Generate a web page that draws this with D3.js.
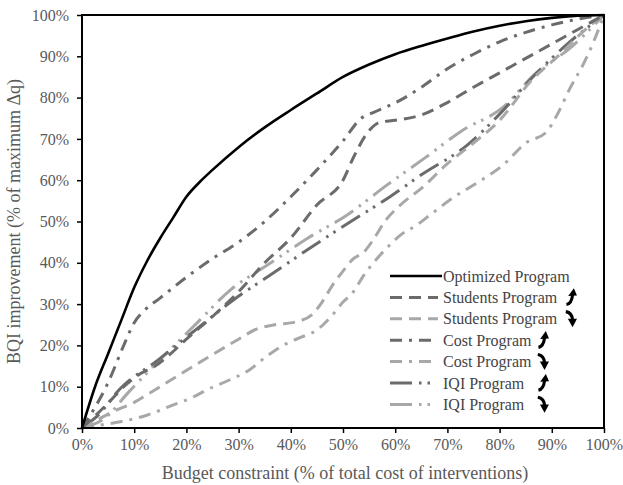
<!DOCTYPE html>
<html>
<head>
<meta charset="utf-8">
<script src="https://cdn.jsdelivr.net/npm/d3@7"></script>
<style>
  html, body { margin: 0; padding: 0; background: #fff; }
  svg { display: block; font-family: "Liberation Serif", "Times New Roman", serif; }
</style>
</head>
<body>
<svg id="chart" width="623" height="485"></svg>
<script>
// Budget (% of total cost) and BQI improvement (% of max Δq) for each program
const optimizedX = [0, 2.5, 5, 7.5, 10, 12.5, 15, 17.5, 20, 22.5, 25, 30, 35, 40, 45, 50, 55, 60, 65, 70, 75, 80, 85, 90, 95, 100];
const optimizedY = [0, 10, 18, 26, 34, 40.5, 46, 51, 56, 59.5, 62.5, 68, 72.8, 77, 81, 85, 88, 90.5, 92.5, 94.3, 96, 97.4, 98.5, 99.3, 99.8, 100];

const studentsUpX = [0, 5, 8, 11, 14, 17, 20, 25, 30, 35, 40, 45, 50, 52, 55, 57, 60, 65, 70, 75, 80, 85, 90, 95, 100];
const studentsUpY = [0, 6, 10, 13, 15, 18, 21.5, 27, 33, 40, 46, 54, 60, 65.5, 72, 74, 74.5, 75.8, 78.8, 82.5, 86, 89.5, 93, 96.5, 100];

const studentsDownX = [0, 3, 6, 10, 12.4, 17.5, 24, 30, 33.5, 37, 41, 44, 46, 48, 50, 52, 54, 56, 58, 61, 65, 70, 75, 80, 86, 92, 96, 100];
const studentsDownY = [0, 2, 4, 6.2, 8, 12, 17, 21.5, 24, 25, 25.7, 27.4, 30.5, 34.6, 38, 41, 42.6, 46, 50, 54, 58, 64, 69, 74.5, 84, 91, 96, 100];

const costUpX = [0, 5, 8, 10, 12, 15, 20, 25, 30, 35, 40, 45, 50, 53.5, 56, 61, 65, 70, 75, 80, 85, 90, 95, 100];
const costUpY = [0, 11, 20, 25.5, 28.5, 31.5, 36.5, 41, 45, 50, 56, 62.5, 69.5, 75, 76.5, 79.4, 82.5, 87, 90.5, 93.5, 95.8, 97.6, 99, 100];

const costDownX = [0, 3.4, 7.3, 12.4, 17.5, 21.3, 24, 28, 32, 35, 38.5, 42, 44.3, 46.2, 48, 50, 52, 54, 56.5, 58.4, 61, 64.2, 66.7, 71, 76, 80.7, 85, 89, 91, 93.5, 96, 98, 100];
const costDownY = [0, 0.7, 1.5, 3.1, 5.6, 7.5, 9.3, 11.5, 14, 17, 20, 22, 23.2, 25, 27.4, 30.5, 33, 37, 41, 43.6, 46.7, 49.2, 51.6, 55.7, 59.6, 63.7, 69, 71.7, 75.8, 82.3, 88, 93.5, 100];

const iqiUpX = [0, 3, 7.3, 14.6, 22, 29, 36, 43.7, 51.5, 59, 65, 73.8, 80, 86, 93, 100];
const iqiUpY = [0, 3, 9.5, 16.5, 24, 31, 37, 43.6, 50, 56, 61.3, 68.5, 76, 84.5, 93, 100];

const iqiDownX = [0, 4.4, 8.8, 15.3, 22, 28.4, 35.6, 43.3, 50.8, 58.4, 65.7, 72.8, 80.5, 87, 93.5, 100];
const iqiDownY = [0, 2.4, 8.5, 17, 25.4, 33.4, 39.5, 46, 51.6, 58.8, 65.4, 72, 77.5, 86, 92, 100];

const seriesNames = ["Optimized Program", "Students Program", "Students Program", "Cost Program", "Cost Program", "IQI Program", "IQI Program"];
const seriesTrend = [null, "up", "down", "up", "down", "up", "down"];
const xTicks = [0, 10, 20, 30, 40, 50, 60, 70, 80, 90, 100];
const yTicks = [0, 10, 20, 30, 40, 50, 60, 70, 80, 90, 100];
const xTitle = "Budget constraint (% of total cost of interventions)";
const yTitle = "BQI improvement (% of maximum Δq)";

// Drawing styles (legend swatch length and arrow position per entry)
const DARK = "#6b6b6b", LIGHT = "#a8a8a8";
const styles = [
  { color: "#000", dash: null, width: 2.6, swatch: 52, arrowX: 0 },
  { color: DARK, dash: "12,7", width: 3, swatch: 48, arrowX: 571 },
  { color: LIGHT, dash: "12,7", width: 3, swatch: 48, arrowX: 571 },
  { color: DARK, dash: "12,7,3,7", width: 3, swatch: 41, arrowX: 543 },
  { color: LIGHT, dash: "12,7,3,7", width: 3, swatch: 41, arrowX: 543 },
  { color: DARK, dash: "22,7,2.5,6,2.5,7", width: 3, swatch: 46, arrowX: 543 },
  { color: LIGHT, dash: "22,7,2.5,6,2.5,7", width: 3, swatch: 46, arrowX: 543 }
];

const seriesData = [
  [optimizedX, optimizedY], [studentsUpX, studentsUpY], [studentsDownX, studentsDownY],
  [costUpX, costUpY], [costDownX, costDownY], [iqiUpX, iqiUpY], [iqiDownX, iqiDownY]
].map(([xs, ys], i) => ({
  name: seriesNames[i], trend: seriesTrend[i], style: styles[i],
  points: xs.map((x, j) => ({ x, y: ys[j] }))
}));

const svg = d3.select("#chart");
const margin = { left: 82, top: 15, right: 19, bottom: 57 };
const W = 623, H = 485;
const x = d3.scaleLinear().domain([0, 100]).range([margin.left, W - margin.right]);
const y = d3.scaleLinear().domain([0, 100]).range([H - margin.bottom, margin.top]);

const line = d3.line().x(d => x(d.x)).y(d => y(d.y)).curve(d3.curveMonotoneX);

// Series lines (programs first, optimized on top)
const order = [6, 5, 4, 3, 2, 1, 0];
svg.append("g").selectAll("path")
  .data(order.map(i => seriesData[i]))
  .join("path")
  .attr("d", d => line(d.points))
  .attr("fill", "none")
  .attr("stroke", d => d.style.color)
  .attr("stroke-width", d => d.style.width)
  .attr("stroke-dasharray", d => d.style.dash);

// Axes
const tickColor = "#595959";
const xAxis = svg.append("g")
  .attr("transform", `translate(0,${y(0)})`)
  .call(d3.axisBottom(x).tickValues(xTicks).tickSize(5).tickSizeOuter(0).tickPadding(6).tickFormat(d => d + "%"));
const yAxis = svg.append("g")
  .attr("transform", `translate(${x(0)},0)`)
  .call(d3.axisLeft(y).tickValues(yTicks).tickSize(5).tickSizeOuter(0).tickPadding(8).tickFormat(d => d + "%"));
[xAxis, yAxis].forEach(a => {
  a.select(".domain").remove();
  a.selectAll(".tick line").attr("stroke", "#000").attr("stroke-width", 1.5);
  a.selectAll(".tick text")
    .attr("fill", tickColor)
    .style("font-family", '"Liberation Serif", serif')
    .style("font-size", "16px");
});

// Plot frame
svg.append("rect")
  .attr("x", x(0)).attr("y", y(100))
  .attr("width", x(100) - x(0)).attr("height", y(0) - y(100))
  .attr("fill", "none").attr("stroke", "#000").attr("stroke-width", 2);

// Axis titles
svg.append("text")
  .attr("x", (x(0) + x(100)) / 2 + 2).attr("y", 475)
  .attr("text-anchor", "middle").attr("dominant-baseline", "middle")
  .attr("fill", tickColor).style("font-size", "18px")
  .text(xTitle);
svg.append("text")
  .attr("transform", `translate(16,${(y(0) + y(100)) / 2}) rotate(-90)`)
  .attr("text-anchor", "middle").attr("dominant-baseline", "middle")
  .attr("fill", tickColor).style("font-size", "18px")
  .text(yTitle);

// Legend
const legend = svg.append("g");
const lx0 = 390, ltx = 443, ly0 = 276, lstep = 21.4;
seriesData.forEach((s, i) => {
  const cy = ly0 + i * lstep;
  legend.append("line")
    .attr("x1", lx0).attr("x2", lx0 + s.style.swatch).attr("y1", cy).attr("y2", cy)
    .attr("stroke", s.style.color).attr("stroke-width", s.style.width)
    .attr("stroke-dasharray", s.style.dash);
  legend.append("text")
    .attr("x", ltx).attr("y", cy)
    .attr("dominant-baseline", "central")
    .attr("fill", "#444").style("font-size", "16px")
    .text(s.name);
  if (s.trend) {
    // curved trend arrow
    const a = legend.append("g").attr("transform", `translate(${s.style.arrowX},${cy}) scale(1.3)`);
    if (s.trend === "up") {
      a.append("path").attr("d", "M-3.5,5.5 C-0.5,5 0.8,2 1.2,-2")
        .attr("fill", "none").attr("stroke", "#000").attr("stroke-width", 2.4);
      a.append("path").attr("d", "M-2.2,-1 L4.6,-1.4 L2.2,-7 Z").attr("fill", "#000");
    } else {
      a.append("path").attr("d", "M-4,-5.5 C-1,-5 1,-3 1.2,1")
        .attr("fill", "none").attr("stroke", "#000").attr("stroke-width", 2.4);
      a.append("path").attr("d", "M-2.4,0 L4.6,0 L1.2,6.5 Z").attr("fill", "#000");
    }
  }
});
</script>
</body>
</html>
